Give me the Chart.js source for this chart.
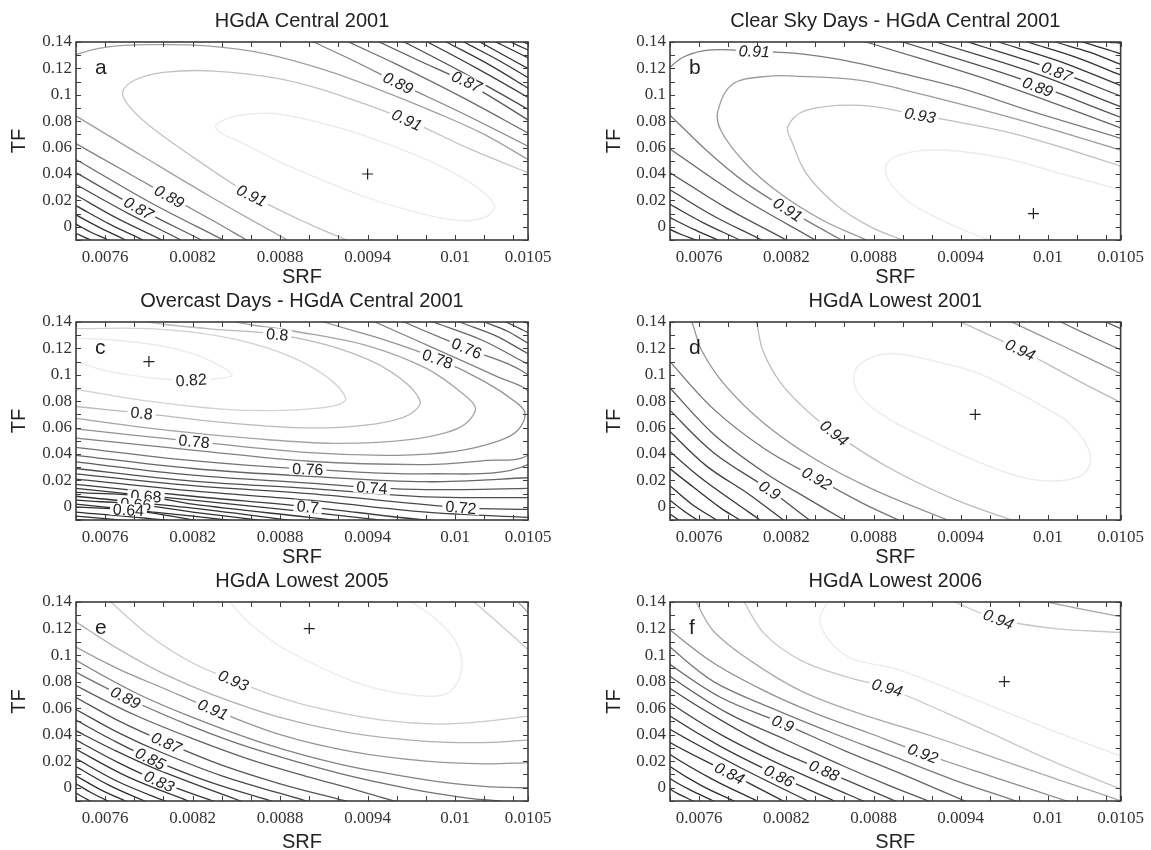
<!DOCTYPE html>
<html>
<head>
<meta charset="utf-8">
<title>SRF / TF contour panels</title>
<script src="https://cdn.jsdelivr.net/npm/chart.js@4.4.0/dist/chart.umd.min.js"></script>
<style>
  html, body { margin: 0; padding: 0; background: #fff; overflow: hidden; }
  #wrap { position: relative; width: 1151px; height: 850px; }
  canvas { position: absolute; }
</style>
</head>
<body>
<div id="wrap">
  <canvas id="pa" width="575" height="300" style="left:0;top:0"></canvas>
  <canvas id="pb" width="576" height="300" style="left:575px;top:0"></canvas>
  <canvas id="pc" width="575" height="300" style="left:0;top:280px"></canvas>
  <canvas id="pd" width="576" height="300" style="left:575px;top:280px"></canvas>
  <canvas id="pe" width="575" height="300" style="left:0;top:560px"></canvas>
  <canvas id="pf" width="576" height="300" style="left:575px;top:560px"></canvas>
</div>
<script>
// values
// contour points are [SRF x 1e4, TF x 100], each line is [level, points]
const SRF_UNIT = 1e-4;
const TF_UNIT = 1e-2;

const titles = [
  "HGdA Central 2001",
  "Clear Sky Days - HGdA Central 2001",
  "Overcast Days - HGdA Central 2001",
  "HGdA Lowest 2001",
  "HGdA Lowest 2005",
  "HGdA Lowest 2006"
];
const letters = ["a", "b", "c", "d", "e", "f"];

const xTickValues = [0.0074, 0.0076, 0.0078, 0.008, 0.0082, 0.0084, 0.0086, 0.0088, 0.009,
  0.0092, 0.0094, 0.0096, 0.0098, 0.01, 0.0102, 0.0104, 0.0105];
const xTickLabels = ["0.0076", "0.0082", "0.0088", "0.0094", "0.01", "0.0105"];
const yTickValues = [-0.01, 0, 0.01, 0.02, 0.03, 0.04, 0.05, 0.06, 0.07, 0.08, 0.09, 0.1,
  0.11, 0.12, 0.13, 0.14];
const yTickLabels = ["0", "0.02", "0.04", "0.06", "0.08", "0.1", "0.12", "0.14"];

// best fit markers (+)
const bestA = [94, 4];
const bestB = [99, 1];
const bestC = [79, 11];
const bestD = [95, 7];
const bestE = [90, 12];
const bestF = [97, 8];

const contoursA = [
  [0.92, [[90,8.1],[93,7.2],[96,6.0],[99,4.6],[101.5,3.0],[102.7,1.6],[102,0.7],[100,0.5],[97,1.2],[94,2.2],[91,3.5],[88,4.9],[85.5,6.3],[83.8,7.2],[83.6,7.7],[85,8.4],[87.5,8.6],[90,8.1]]],
  [0.91, [[105.5,3.9],[105,4.1],[101,5.9],[96.7,8.1],[92,10.0],[88,11.2],[83.5,11.8],[80,11.7],[78,11.1],[77.2,10.2],[77.6,9.2],[79,7.7],[82,5.3],[86,2.4],[90,0.2],[93,-1.2]]],
  [0.90, [[73.5,12.7],[74,13.05],[76,13.6],[79,13.8],[83,13.7],[87,13.1],[91,11.9],[95,10.3],[99,8.5],[102,7.0],[105,5.1],[106,4.5]]],
  [0.90, [[73.5,8.8],[74,8.4],[78.5,5.4],[83.2,2.3],[88.5,-1],[89.5,-1.6]]],
  [0.89, [[89.5,14.4],[90.3,14],[93,12.6],[96.1,10.9],[100.5,8.6],[105,6.1],[106,5.5]]],
  [0.89, [[73.5,6.6],[74,6.3],[77.2,4.3],[80.4,2.3],[83.5,0.4],[85.7,-1],[86.5,-1.5]]],
  [0.88, [[92,14.4],[92.7,14],[96,12.3],[100.5,9.8],[105,7.1],[106,6.5]]],
  [0.88, [[73.5,5.4],[74,5.1],[79,1.9],[84.1,-1],[84.8,-1.4]]],
  [0.87, [[94.1,14.4],[94.8,14],[97.5,12.6],[100.8,10.9],[105,8.1],[106,7.4]]],
  [0.87, [[73.5,4.4],[74,4.1],[78.3,1.4],[82.6,-1],[83.3,-1.4]]],
  [0.86, [[95.9,14.3],[96.5,14],[100.5,11.7],[105,8.9],[106,8.2]]],
  [0.86, [[73.5,3.5],[74,3.2],[77.6,1.0],[81.2,-1],[81.8,-1.4]]],
  [0.85, [[97.5,14.3],[98.1,14],[101.5,12],[105,9.8],[106,9.1]]],
  [0.85, [[73.5,2.7],[74,2.4],[76.9,0.6],[79.9,-1],[80.5,-1.4]]],
  [0.84, [[98.9,14.3],[99.4,14],[102.3,12.3],[105,10.5],[106,9.8]]],
  [0.84, [[73.5,1.9],[74,1.6],[76.3,0.2],[78.6,-1],[79.2,-1.4]]],
  [0.83, [[100.1,14.3],[100.6,14],[103,12.6],[105,11.3],[106,10.6]]],
  [0.83, [[73.5,1.2],[74,0.9],[75.7,-0.1],[77.4,-1],[78,-1.4]]],
  [0.82, [[101.2,14.3],[101.7,14],[103.5,12.9],[105,12],[106,11.4]]],
  [0.82, [[73.5,0.5],[74,0.2],[75.1,-0.45],[76.2,-1],[76.8,-1.4]]],
  [0.81, [[102.3,14.3],[102.8,14],[105,12.8],[106,12.2]]],
  [0.81, [[73.5,-0.2],[74,-0.5],[75,-1],[75.6,-1.4]]],
  [0.80, [[103.3,14.3],[103.8,14],[105,13.4],[106,12.9]]],
  [0.79, [[104.3,14.3],[104.7,14],[105.5,13.6]]]
];
const labelsA = [[0.89,96.1,10.9],[0.87,100.8,11.0],[0.91,96.7,8.1],[0.89,80.4,2.3],[0.87,78.3,1.4],[0.91,86.05,2.37]];

const contoursB = [
  [0.94, [[105.5,2.6],[105,2.8],[101,4.0],[97,5.2],[93,5.8],[90.3,5.6],[88.9,4.8],[89,3.6],[90.3,2.0],[92.5,0.6],[95,-0.6],[96,-1],[97,-1.5]]],
  [0.93, [[105.5,4.4],[105,4.6],[101,6.0],[97.5,7.1],[94,7.9],[91.2,8.45],[87.1,9.2],[83.3,8.8],[82.1,7.6],[82.4,6.4],[83.4,4.0],[85.5,1.6],[87.8,0],[90,-1],[91,-1.4]]],
  [0.92, [[105.5,5.6],[105,5.8],[99,7.8],[94,9.3],[90,10.4],[87.1,11.1],[83,11.4],[80.7,11.4],[78.3,10.8],[77.3,8.8],[77.5,7.3],[79.2,4.8],[81.6,2.5],[84.5,0.5],[87.5,-1],[88.5,-1.5]]],
  [0.91, [[73.5,11.6],[74,12.1],[75,12.9],[76.8,13.4],[79.8,13.3],[83,13.1],[86,12.6],[90,11.6],[94,10.5],[99,8.7],[105,6.7],[106,6.3]]],
  [0.91, [[73.5,8.9],[74,8.45],[76.5,5.8],[79,3.5],[82.1,1.3],[85.8,-1],[86.5,-1.4]]],
  [0.90, [[86.5,14.4],[87.5,14],[96.4,10.95],[105,7.5],[106,7.1]]],
  [0.90, [[73.5,6.25],[74,5.9],[78.8,2.3],[84,-1],[84.7,-1.45]]],
  [0.89, [[89,14.4],[90,14],[97.7,11.35],[105,8.3],[106,7.9]]],
  [0.89, [[73.5,4.4],[74,4.1],[77.84,1.45],[82,-1],[82.7,-1.45]]],
  [0.88, [[91.3,14.4],[92.3,14],[98.8,11.75],[105,9.1],[106,8.7]]],
  [0.88, [[73.5,3.1],[74,2.8],[77,0.82],[80.3,-1],[80.9,-1.4]]],
  [0.87, [[93.5,14.4],[94.5,14],[99.9,12.1],[105,9.9],[106,9.5]]],
  [0.87, [[73.5,2.0],[74,1.7],[76.3,0.3],[78.8,-1],[79.4,-1.35]]],
  [0.86, [[95.6,14.4],[96.6,14],[100.9,12.5],[105,10.7],[106,10.3]]],
  [0.86, [[73.5,1.0],[74,0.7],[75.6,-0.18],[77.3,-1],[77.9,-1.3]]],
  [0.85, [[97.6,14.4],[98.6,14],[101.9,12.85],[105,11.5],[106,11.1]]],
  [0.85, [[73.5,0.1],[74,-0.2],[74.86,-0.62],[75.8,-1],[76.4,-1.3]]],
  [0.84, [[99.5,14.4],[100.5,14],[102.8,13.25],[105,12.3],[106,11.9]]],
  [0.83, [[101.4,14.4],[102.4,14],[105,13.1],[106,12.7]]],
  [0.82, [[103.2,14.4],[104.2,14],[105,13.9],[106,13.5]]]
];
const labelsB = [[0.91,79.8,13.3],[0.93,91.2,8.45],[0.89,99.3,10.6],[0.87,100.6,11.75],[0.91,82.1,1.3]];

const contoursC = [
  [0.82, [[73.5,13.0],[74,12.8],[77,12.6],[79.8,12.2],[82,11.6],[83.5,10.9],[84.7,10.0],[84,9.75],[81.9,9.6],[79.7,9.7],[76.1,10.3],[74,11.0],[73.5,11.2]]],
  [0.81, [[73.5,13.5],[74,13.5],[79,13.5],[84,12.9],[88,11.7],[91,10.0],[92.5,8.2],[91.5,7.6],[88,7.3],[84,7.4],[79,8.0],[74,8.9],[73.5,9.0]]],
  [0.80, [[78,14.5],[79,14],[83,13.5],[87.8,13.05],[92,12.0],[95.5,10.3],[97.6,8.0],[96.5,6.8],[93,6.1],[89,6.0],[84,6.4],[78.5,7.1],[74,7.6],[73.5,7.7]]],
  [0.79, [[84,14.5],[85,14],[89,13.3],[94,12.2],[98,10.5],[100.6,8.5],[101.4,7.4],[100.3,6.0],[97,5.1],[92,4.8],[87,5.1],[82,5.6],[78,6.1],[74,6.7],[73.5,6.8]]],
  [0.78, [[90,14.5],[91,14],[95,12.7],[98.8,11.2],[102,9.5],[104.2,7.9],[104.8,7.1],[104.3,5.8],[103,5.0],[100,4.2],[96,3.9],[90,4.1],[82.1,4.95],[74,5.9],[73.5,6.0]]],
  [0.77, [[93.5,14.5],[94.5,14],[99,11.8],[103,9.8],[105,8.8],[106.5,6.5],[105,3.9],[102,3.5],[98,3.2],[90,3.45],[82,4.3],[74,5.2],[73.5,5.3]]],
  [0.76, [[95.8,14.5],[96.5,14],[100.8,12.0],[105,10.0],[107,7],[105,3.2],[98,2.5],[89.9,2.85],[82,3.5],[74,4.5],[73.5,4.6]]],
  [0.75, [[97.7,14.4],[98.5,14],[101.9,12.6],[105,10.8],[105.8,10.4]]],
  [0.75, [[73.5,4.0],[74,3.9],[82,2.9],[90,2.3],[98,1.9],[105,2.2],[106,2.3]]],
  [0.74, [[99.5,14.4],[100.3,14],[102.8,12.95],[105,11.6],[105.8,11.2]]],
  [0.74, [[73.5,3.5],[74,3.4],[82,2.4],[90,1.8],[94.3,1.45],[98,1.3],[105,1.4],[106,1.45]]],
  [0.73, [[101.2,14.4],[102,14],[103.6,13.3],[105,12.4],[105.8,12]]],
  [0.73, [[73.5,3.0],[74,2.9],[82,1.95],[90,1.4],[98,0.75],[105,0.7],[106,0.7]]],
  [0.72, [[102.7,14.4],[103.5,14],[105,13.2],[105.8,12.8]]],
  [0.72, [[73.5,2.6],[74,2.5],[82,1.6],[90,1.0],[100.4,-0.06],[105,-0.2],[106,-0.2]]],
  [0.71, [[104.3,14.4],[104.8,14],[105.5,13.6]]],
  [0.71, [[73.5,2.2],[74,2.1],[82,1.2],[90,0.5],[98,-0.4],[105,-0.8],[106,-0.85]]],
  [0.70, [[73.5,1.8],[74,1.7],[82,0.8],[89.9,0.0],[98,-1.0],[105,-1.5]]],
  [0.69, [[73.5,1.5],[74,1.4],[82,0.5],[90,-0.4],[98,-1.4]]],
  [0.68, [[73.5,1.2],[74,1.1],[78.8,0.8],[82,0.2],[90,-0.8],[94,-1.3]]],
  [0.67, [[73.5,0.9],[74,0.8],[82,-0.1],[90,-1.2]]],
  [0.66, [[73.5,0.6],[74,0.5],[78.1,0.2],[82,-0.4],[88,-1.2]]],
  [0.65, [[73.5,0.3],[74,0.2],[82,-0.7],[86,-1.2]]],
  [0.64, [[73.5,0.05],[74,0.0],[77.6,-0.24],[81,-0.8],[83,-1.2]]],
  [0.63, [[73.5,-0.35],[74,-0.4],[80,-1],[82,-1.3]]],
  [0.62, [[73.5,-0.65],[74,-0.7],[78,-1.1]]],
  [0.61, [[73.5,-0.9],[74,-0.95],[76,-1.2]]]
];
const labelsC = [[0.8,87.8,13.05],[0.76,100.8,12.0],[0.78,98.8,11.2],[0.82,81.9,9.6],[0.8,78.5,7.1],[0.78,82.1,4.95],[0.76,89.9,2.85],[0.74,94.3,1.45],[0.7,89.9,0.0],[0.72,100.4,-0.06],[0.68,78.8,0.8],[0.66,78.1,0.2],[0.64,77.6,-0.24]];

const contoursD = [
  [0.95, [[92,11.1],[95,10.2],[97.5,8.9],[100,7.4],[101.4,6.4],[102.7,4.6],[102.9,3.3],[102.2,2.3],[100.1,1.95],[98,2.3],[95,3.5],[92,5.0],[89,6.7],[87,8.5],[86.7,10.2],[87.8,11.3],[89.5,11.6],[92,11.1]]],
  [0.94, [[79.8,14.5],[79.95,14],[80.4,11.8],[81.6,9.4],[83.3,7.4],[85.3,5.6],[89,3.0],[93.5,0.6],[97.5,-1],[98.5,-1.4]]],
  [0.94, [[93.2,14.4],[94,14],[98.1,11.9],[102,9.6],[105,7.9],[106,7.3]]],
  [0.93, [[75.2,14.5],[75.5,14],[76.2,11.8],[77.8,9.2],[80.5,6.3],[84,3.6],[88,1.3],[93.1,-1],[94.1,-1.4]]],
  [0.93, [[96.8,14.4],[97.5,14],[101,12.2],[105,10.1],[106,9.6]]],
  [0.92, [[73.6,11.6],[74,11.0],[77,7.4],[80.5,4.4],[84.1,2.15],[87.2,0.3],[89.7,-1],[90.5,-1.4]]],
  [0.92, [[100.3,14.4],[100.9,14],[103,12.9],[105,11.9],[106,11.4]]],
  [0.91, [[73.6,9.5],[74,9.0],[77,5.5],[80.5,2.6],[83.5,0.6],[86,-1],[86.7,-1.4]]],
  [0.91, [[103.5,14.4],[104,14],[105,13.5],[106,13]]],
  [0.90, [[73.6,7.8],[74,7.3],[77,4.1],[80.86,1.27],[83.6,-1],[84.2,-1.4]]],
  [0.89, [[73.6,6.2],[74,5.7],[76.5,3.1],[79.5,0.9],[81.8,-1],[82.4,-1.4]]],
  [0.88, [[73.6,4.7],[74,4.2],[76,2.3],[78.5,0.3],[80.2,-1],[80.7,-1.4]]],
  [0.87, [[73.6,3.4],[74,2.9],[75.6,1.5],[77.5,-0.1],[78.8,-1],[79.3,-1.4]]],
  [0.86, [[73.6,2.05],[74,1.6],[75.5,0.2],[77.2,-1],[77.7,-1.35]]],
  [0.85, [[73.6,0.95],[74,0.5],[75,-0.35],[75.9,-1],[76.4,-1.3]]],
  [0.84, [[73.6,-0.2],[74,-0.55],[74.6,-1],[75.1,-1.35]]]
];
const labelsD = [[0.94,98.1,11.9],[0.94,85.3,5.6],[0.92,84.1,2.15],[0.9,80.86,1.27]];

const contoursE = [
  [0.94, [[83.7,14.5],[84.5,14],[85.9,12.4],[88.4,10.4],[93.3,7.9],[97,7.0],[99.4,7.1],[100.4,8.6],[100.2,10.7],[98.7,12.7],[97,14],[96.3,14.5]]],
  [0.93, [[76,14.5],[76.4,14],[79,11.5],[82,9.4],[84.8,8.1],[88,6.8],[91,5.9],[95,5.1],[99,4.8],[102,5.0],[105,5.4],[106,5.6]]],
  [0.93, [[100.8,14.3],[101.3,14],[103.8,11.6],[105,10.4],[105.6,9.8]]],
  [0.92, [[73.6,12.8],[74,12.5],[77,10.4],[80,8.6],[83.4,7.0],[88,5.3],[93,4.1],[98,3.5],[102,3.4],[105,3.6],[106,3.7]]],
  [0.92, [[103.8,14.3],[104.3,14],[105,13.2],[105.6,12.5]]],
  [0.91, [[73.6,11.0],[74,10.6],[77,8.9],[80,7.5],[83.4,5.9],[88,4.0],[93,2.7],[98,2.0],[102,1.8],[105,1.9],[106,1.95]]],
  [0.90, [[73.6,10.0],[74,9.6],[78,7.2],[82,5.3],[87,3.3],[92,1.8],[98,0.6],[102,0.1],[105,0.0],[106,0.0]]],
  [0.89, [[73.6,9.0],[74,8.7],[77.4,6.8],[82,4.6],[86,3.0],[92,1.1],[97,-0.1],[101,-0.8],[103,-1],[104,-1.3]]],
  [0.88, [[73.6,8.0],[74,7.7],[78,5.5],[82,3.7],[86,2.1],[90,0.8],[93,-0.1],[95.8,-1],[97,-1.3]]],
  [0.87, [[73.6,7.05],[74,6.8],[77,5.0],[80.2,3.4],[84,1.7],[88,0.3],[92.5,-1],[93.5,-1.3]]],
  [0.86, [[73.6,6.15],[74,5.9],[77,4.1],[80,2.6],[84,0.9],[89.8,-1],[90.8,-1.3]]],
  [0.85, [[73.6,5.35],[74,5.1],[76.5,3.6],[79.1,2.2],[83,0.5],[87.4,-1],[88.4,-1.3]]],
  [0.84, [[73.6,4.55],[74,4.3],[76.5,2.9],[79.5,1.4],[85.3,-1],[86.3,-1.3]]],
  [0.83, [[73.6,3.85],[74,3.6],[76.8,1.95],[79.7,0.48],[83.4,-1],[84.4,-1.3]]],
  [0.82, [[73.6,3.15],[74,2.9],[77.6,0.8],[81.7,-1],[82.5,-1.3]]],
  [0.81, [[73.6,2.45],[74,2.2],[76.9,0.45],[80.1,-1],[80.9,-1.3]]],
  [0.80, [[73.6,1.85],[74,1.6],[76.25,0.2],[78.7,-1],[79.4,-1.3]]],
  [0.79, [[73.6,1.15],[74,0.9],[75.6,-0.1],[77.4,-1],[78.1,-1.3]]],
  [0.78, [[73.6,0.55],[74,0.3],[75.05,-0.38],[76.2,-1],[76.9,-1.3]]],
  [0.77, [[73.6,-0.15],[74,-0.4],[74.5,-0.72],[75,-1],[75.7,-1.3]]]
];
const labelsE = [[0.93,84.8,8.1],[0.91,83.4,5.9],[0.89,77.4,6.8],[0.87,80.2,3.4],[0.85,79.1,2.2],[0.83,79.7,0.48]];

const contoursF = [
  [0.95, [[84.9,14.5],[84.8,14],[84.3,12.6],[85.1,10.9],[86.6,9.7],[89.7,8.9],[94.9,6.7],[100.1,4.4],[105,2.4],[106,2.0]]],
  [0.94, [[78.9,14.5],[79.1,14],[80.5,11.6],[83,9.6],[86,8.4],[89,7.5],[94.9,4.7],[100.1,2.1],[105,-0.1],[106,-0.5]]],
  [0.94, [[93,14.5],[93.6,14],[96.6,12.7],[100.5,12.0],[105,11.7],[106,11.6]]],
  [0.93, [[75.6,14.5],[75.8,14],[77,11.8],[79.5,9.6],[83,7.3],[87,5.6],[92,3.9],[97,2.0],[101,0.5],[104,-0.6],[105,-1],[106,-1.4]]],
  [0.93, [[99.5,14.3],[100,14],[105,12.9],[106,12.7]]],
  [0.92, [[73.6,12.4],[74,11.9],[77,9.4],[80.5,7.3],[84,5.6],[87.5,4.2],[91.4,2.6],[96,0.9],[101.3,-1],[102.3,-1.4]]],
  [0.91, [[73.6,11.1],[74,10.6],[77,8.0],[81,6.0],[85,4.2],[89.5,2.3],[93.5,0.6],[97.8,-1],[98.8,-1.4]]],
  [0.90, [[73.6,9.8],[74,9.3],[77.5,6.8],[81.76,4.85],[86,2.8],[90,1.0],[94.3,-1],[95.3,-1.4]]],
  [0.89, [[73.6,8.9],[74,8.4],[78,5.6],[82,3.6],[86,1.6],[89,0.2],[91.8,-1],[92.8,-1.4]]],
  [0.88, [[73.6,8.0],[74,7.5],[77.5,5.1],[81,3.0],[84.6,1.3],[89.5,-1],[90.5,-1.4]]],
  [0.87, [[73.6,6.9],[74,6.4],[77.5,4.0],[81.5,1.8],[87.3,-1],[88.3,-1.4]]],
  [0.86, [[73.6,5.9],[74,5.4],[77.5,3.1],[81.5,0.9],[85.3,-1],[86.2,-1.4]]],
  [0.85, [[73.6,4.9],[74,4.4],[78.7,1.6],[83.5,-1],[84.4,-1.4]]],
  [0.84, [[73.6,3.9],[74,3.4],[78.1,1.1],[81.8,-1],[82.6,-1.4]]],
  [0.83, [[73.6,3.0],[74,2.5],[76.9,0.65],[80,-1],[80.8,-1.4]]],
  [0.82, [[73.6,2.1],[74,1.6],[76.1,0.2],[78.4,-1],[79.2,-1.4]]],
  [0.81, [[73.6,1.2],[74,0.7],[75.45,-0.2],[77,-1],[77.7,-1.4]]],
  [0.80, [[73.6,0.4],[74,-0.1],[74.78,-0.58],[75.6,-1],[76.3,-1.4]]]
];
const labelsF = [[0.94,96.6,12.7],[0.94,88.95,7.54],[0.9,81.76,4.85],[0.92,91.4,2.6],[0.84,78.1,1.1],[0.86,81.5,0.9],[0.88,84.6,1.3]];

const panels = [
  { id: "pa", lines: contoursA, labels: labelsA, best: bestA, italic: true },
  { id: "pb", lines: contoursB, labels: labelsB, best: bestB, italic: true },
  { id: "pc", lines: contoursC, labels: labelsC, best: bestC, italic: false },
  { id: "pd", lines: contoursD, labels: labelsD, best: bestD, italic: true },
  { id: "pe", lines: contoursE, labels: labelsE, best: bestE, italic: true },
  { id: "pf", lines: contoursF, labels: labelsF, best: bestF, italic: true }
];

Chart.defaults.font.family = '"Liberation Sans", Arial, sans-serif';

// high levels light, low levels dark
function grayFor(level, lo, hi) {
  let t = hi > lo ? (level - lo) / (hi - lo) : 1;
  let g = Math.round(45 + 190 * Math.pow(t, 3));
  return "rgb(" + g + "," + g + "," + g + ")";
}

function tickText(v, list) {
  let hit = list.find(l => Math.abs(parseFloat(l) - v) < 1e-9);
  return hit || "";
}

function segDist(px, py, a, b) {
  let dx = b.x - a.x, dy = b.y - a.y;
  let len = dx * dx + dy * dy;
  let t = len ? ((px - a.x) * dx + (py - a.y) * dy) / len : 0;
  t = Math.max(0, Math.min(1, t));
  let qx = a.x + t * dx, qy = a.y + t * dy;
  return Math.hypot(px - qx, py - qy);
}

// inline contour labels, rotated along their line
const labelPlugin = {
  id: "clabels",
  afterDatasetsDraw(chart, args, opts) {
    let { ctx, scales: { x, y } } = chart;
    ctx.save();
    ctx.font = (opts.italic ? "italic " : "") + '16px "Liberation Sans", Arial, sans-serif';
    ctx.textAlign = "center";
    ctx.textBaseline = "middle";
    opts.items.forEach(([level, s, t]) => {
      let px = x.getPixelForValue(s * SRF_UNIT);
      let py = y.getPixelForValue(t * TF_UNIT);
      let best = Infinity, ang = 0;
      chart.data.datasets.forEach((ds, i) => {
        if (ds.level !== level) return;
        let pts = chart.getDatasetMeta(i).data;
        for (let k = 1; k < pts.length; k++) {
          let d = segDist(px, py, pts[k - 1], pts[k]);
          if (d < best) {
            best = d;
            ang = Math.atan2(pts[k].y - pts[k - 1].y, pts[k].x - pts[k - 1].x);
          }
        }
      });
      if (ang > Math.PI / 2) ang -= Math.PI;
      if (ang < -Math.PI / 2) ang += Math.PI;
      let text = String(level);
      let w = ctx.measureText(text).width;
      ctx.save();
      ctx.translate(px, py);
      ctx.rotate(ang);
      ctx.fillStyle = "#fff";
      ctx.fillRect(-w / 2 - 3, -6, w + 6, 12);
      ctx.fillStyle = "#222";
      ctx.fillText(text, 0, 1);
      ctx.restore();
    });
    ctx.restore();
  }
};

// box round the plot, inward ticks on all four sides, panel letter
const framePlugin = {
  id: "frame",
  afterDatasetsDraw(chart, args, opts) {
    let { ctx, chartArea: a, scales: { x, y } } = chart;
    let len = 5;
    ctx.save();
    ctx.strokeStyle = "#3c3c3c";
    ctx.lineWidth = 1;
    ctx.beginPath();
    xTickValues.forEach(v => {
      let px = Math.round(x.getPixelForValue(v)) + 0.5;
      ctx.moveTo(px, a.bottom);
      ctx.lineTo(px, a.bottom - len);
      ctx.moveTo(px, a.top);
      ctx.lineTo(px, a.top + len);
    });
    yTickValues.forEach(v => {
      let py = Math.round(y.getPixelForValue(v)) + 0.5;
      ctx.moveTo(a.left, py);
      ctx.lineTo(a.left + len, py);
      ctx.moveTo(a.right, py);
      ctx.lineTo(a.right - len, py);
    });
    ctx.stroke();
    ctx.lineWidth = 1.6;
    ctx.strokeRect(a.left, a.top, a.right - a.left, a.bottom - a.top);
    ctx.fillStyle = "#222";
    ctx.font = '21px "Liberation Sans", Arial, sans-serif';
    ctx.textAlign = "left";
    ctx.textBaseline = "alphabetic";
    ctx.fillText(opts.letter, a.left + 19, a.top + 32);
    ctx.restore();
  }
};

function makeChart(p, i) {
  let rightCol = i % 2 === 1;
  let lastRow = i >= 4;
  let levels = p.lines.map(l => l[0]);
  let lo = Math.min(...levels), hi = Math.max(...levels);

  let datasets = p.lines.map(([level, pts]) => ({
    level: level,
    data: pts.map(([s, t]) => ({ x: s * SRF_UNIT, y: t * TF_UNIT })),
    borderColor: grayFor(level, lo, hi),
    borderWidth: 1.3,
    pointRadius: 0,
    tension: 0.35,
    fill: false
  }));
  datasets.push({
    data: [{ x: p.best[0] * SRF_UNIT, y: p.best[1] * TF_UNIT }],
    showLine: false,
    pointStyle: "cross",
    pointRadius: 5.5,
    borderColor: "#222",
    backgroundColor: "#222",
    borderWidth: 1.2
  });

  let serif = { family: '"Liberation Serif", "Times New Roman", serif', size: 17 };
  let sans = { family: '"Liberation Sans", Arial, sans-serif', size: 20 };

  return new Chart(document.getElementById(p.id), {
    type: "line",
    data: { datasets: datasets },
    options: {
      responsive: false,
      animation: false,
      devicePixelRatio: 1,
      events: [],
      layout: { padding: { left: 0, right: rightCol ? 30 : 47, top: 0, bottom: lastRow ? 6 : 10 } },
      elements: { line: { capBezierPoints: false } },
      plugins: {
        legend: { display: false },
        tooltip: { enabled: false },
        title: {
          display: true,
          text: titles[i],
          color: "#222",
          font: { family: sans.family, size: 20, weight: "normal" },
          padding: { top: 9, bottom: 9 },
          fullSize: false
        },
        clabels: { items: p.labels, italic: p.italic },
        frame: { letter: letters[i] }
      },
      scales: {
        x: {
          type: "linear",
          min: 0.0074,
          max: 0.0105,
          afterBuildTicks: s => { s.ticks = xTickValues.map(v => ({ value: v })); },
          afterFit: s => { s.height = lastRow ? 53 : 50; },
          grid: { display: false, drawTicks: false },
          border: { display: false },
          ticks: {
            autoSkip: false,
            maxRotation: 0,
            padding: 7,
            color: "#333",
            font: serif,
            callback: v => tickText(v, xTickLabels)
          },
          title: { display: true, text: "SRF", color: "#222", font: sans, padding: { top: 0, bottom: lastRow ? 0 : 1 } }
        },
        y: {
          type: "linear",
          min: -0.01,
          max: 0.14,
          afterBuildTicks: s => { s.ticks = yTickValues.map(v => ({ value: v })); },
          afterFit: s => { s.width = rightCol ? 95 : 76; },
          grid: { display: false, drawTicks: false },
          border: { display: false },
          ticks: {
            autoSkip: false,
            padding: 4,
            color: "#333",
            font: serif,
            callback: v => tickText(v, yTickLabels)
          },
          title: { display: true, text: "TF", color: "#222", font: sans, padding: { top: rightCol ? 27 : 7, bottom: 0 } }
        }
      }
    },
    plugins: [labelPlugin, framePlugin]
  });
}

panels.forEach((p, i) => makeChart(p, i));
</script>
</body>
</html>
